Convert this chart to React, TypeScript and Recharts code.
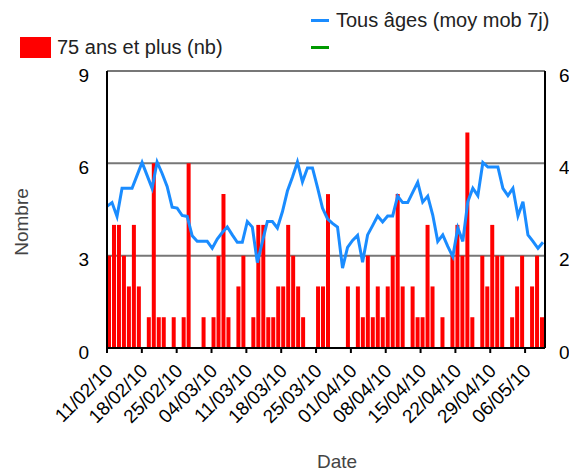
import React from 'react';
import { ComposedChart, Bar, Line, XAxis, YAxis, CartesianGrid } from 'recharts';

const tickLabels = ['11/02/10', '18/02/10', '25/02/10', '04/03/10', '11/03/10', '18/03/10', '25/03/10', '01/04/10', '08/04/10', '15/04/10', '22/04/10', '29/04/10', '06/05/10'];
const tickDays = [0, 7, 14, 21, 28, 35, 42, 49, 56, 63, 70, 77, 84];
const leftTicks = [0, 3, 6, 9];
const rightTicks = [0, 2, 4, 6];

// 75 ans et plus (nb), one value per day from 11/02/10
const bars75 = [
  3, 4, 4, 3, 2, 4, 2, 0, 1, 6,
  1, 1, 0, 1, 0, 1, 6, 0, 0, 1,
  0, 1, 3, 5, 1, 0, 2, 3, 0, 1,
  4, 4, 1, 1, 2, 2, 4, 3, 2, 1,
  0, 0, 2, 2, 5, 0, 0, 0, 2, 0,
  2, 1, 3, 1, 2, 1, 2, 3, 5, 2,
  0, 2, 1, 1, 4, 2, 0, 1, 0, 3,
  4, 3, 7, 1, 0, 3, 2, 4, 3, 3,
  0, 1, 2, 3, 0, 2, 3, 1,
];

// Tous âges (moy mob 7j)
const movAvg = [
  3.07, 3.15, 2.85, 3.46, 3.46, 3.46, 3.74, 4.02, 3.74, 3.46,
  4.03, 3.78, 3.5, 3.05, 3.03, 2.87, 2.85, 2.43, 2.31, 2.31,
  2.31, 2.16, 2.36, 2.5, 2.62, 2.45, 2.29, 2.29, 2.74, 2.62,
  1.85, 2.3, 2.74, 2.74, 2.6, 2.95, 3.4, 3.7, 4.03, 3.6,
  3.9, 3.9, 3.48, 3.03, 2.8, 2.7, 2.62, 1.73, 2.18, 2.33,
  2.44, 1.86, 2.45, 2.65, 2.86, 2.73, 2.86, 2.86, 3.29, 3.15,
  3.15, 3.37, 3.59, 3.16, 3.29, 2.88, 2.31, 2.45, 2.2, 1.98,
  2.6, 2.31, 3.17, 3.46, 3.3, 4.02, 3.92, 3.92, 3.92, 3.46,
  3.3, 3.46, 2.86, 3.17, 2.45, 2.31, 2.16, 2.29,
];

const DAYS = bars75.length;
const LINE_DOMAIN_MAX = 87.4;

const barData = bars75.map((v, i) => ({ d: i, nb: v }));
const lineData = movAvg.map((v, k) => ({ k, moy: v }));
const barTicks = tickDays.map((t) => t - 0.5);

const FONT = 'Liberation Sans, Arial, sans-serif';
const FS = 19;

const XTick = (props: any) => {
  const { x, y, payload } = props;
  const idx = barTicks.indexOf(payload.value);
  const ax = x + 7;
  const ay = y + 19;
  return (
    <text x={ax} y={ay} transform={`rotate(-45, ${ax}, ${ay})`} textAnchor="end" fontSize={FS} fontFamily={FONT} fill="#000">
      {tickLabels[idx]}
    </text>
  );
};

const LeftTick = (props: any) => {
  const { x, y, payload } = props;
  return (
    <text x={x} y={y + 4} dy="0.355em" textAnchor="end" fontSize={FS} fontFamily={FONT} fill="#000">
      {payload.value}
    </text>
  );
};

const RightTick = (props: any) => {
  const { x, y, payload } = props;
  return (
    <text x={x} y={y + 4} dy="0.355em" textAnchor="start" fontSize={FS} fontFamily={FONT} fill="#000">
      {payload.value}
    </text>
  );
};

export default function App() {
  return (
    <div style={{ position: 'absolute', left: 0, top: 0, width: 569, height: 473, background: '#fff', fontFamily: FONT }}>
      <ComposedChart
        width={569}
        height={473}
        data={barData}
        margin={{ top: 71, right: 4, bottom: 30, left: 47 }}
      >
        <CartesianGrid horizontal vertical={false} stroke="#777" strokeWidth={2} yAxisId="left" xAxisId="bars" />
        <XAxis
          xAxisId="bars"
          type="number"
          dataKey="d"
          domain={[-0.5, DAYS - 0.5]}
          ticks={barTicks}
          interval={0}
          allowDataOverflow
          height={95}
          stroke="#000"
          strokeWidth={2}
          tickSize={5}
          tickMargin={0}
          tick={<XTick />}
        />
        <XAxis
          xAxisId="line"
          type="number"
          dataKey="k"
          domain={[0, LINE_DOMAIN_MAX]}
          allowDataOverflow
          hide
        />
        <YAxis
          yAxisId="left"
          domain={[0, 9]}
          ticks={leftTicks}
          width={60}
          stroke="#000"
          strokeWidth={2}
          tickLine={false}
          tickMargin={12}
          tick={<LeftTick />}
        />
        <YAxis
          yAxisId="right"
          orientation="right"
          domain={[0, 6]}
          ticks={rightTicks}
          width={20}
          stroke="#000"
          strokeWidth={2}
          tickLine={false}
          tickMargin={8}
          tick={<RightTick />}
        />
        <Line
          xAxisId="line"
          yAxisId="right"
          data={lineData}
          dataKey="moy"
          type="linear"
          stroke="#1a8cff"
          strokeWidth={3}
          dot={false}
          isAnimationActive={false}
        />
        <Bar xAxisId="bars" yAxisId="left" dataKey="nb" fill="#ff0000" barSize={4} isAnimationActive={false} />
      </ComposedChart>

      {/* Legend */}
      <div style={{ position: 'absolute', left: 20, top: 37, width: 31, height: 21, background: '#ff0000' }} />
      <div style={{ position: 'absolute', left: 57, top: 35, fontSize: 20, color: '#222', lineHeight: '24px', whiteSpace: 'nowrap' }}>
        75 ans et plus (nb)
      </div>
      <div style={{ position: 'absolute', left: 311, top: 19, width: 18, height: 3, background: '#1a8cff' }} />
      <div style={{ position: 'absolute', left: 336, top: 8, fontSize: 20, color: '#222', lineHeight: '24px', whiteSpace: 'nowrap' }}>
        Tous âges (moy mob 7j)
      </div>
      <div style={{ position: 'absolute', left: 311, top: 46, width: 18, height: 3, background: '#009900' }} />

      {/* Axis titles */}
      <div style={{ position: 'absolute', left: 22, top: 222, transform: 'translate(-50%, -50%) rotate(-90deg)', fontSize: FS, color: '#444', whiteSpace: 'nowrap' }}>
        Nombre
      </div>
      <div style={{ position: 'absolute', left: 337, top: 462, transform: 'translate(-50%, -50%)', fontSize: FS, color: '#444', whiteSpace: 'nowrap' }}>
        Date
      </div>
    </div>
  );
}
